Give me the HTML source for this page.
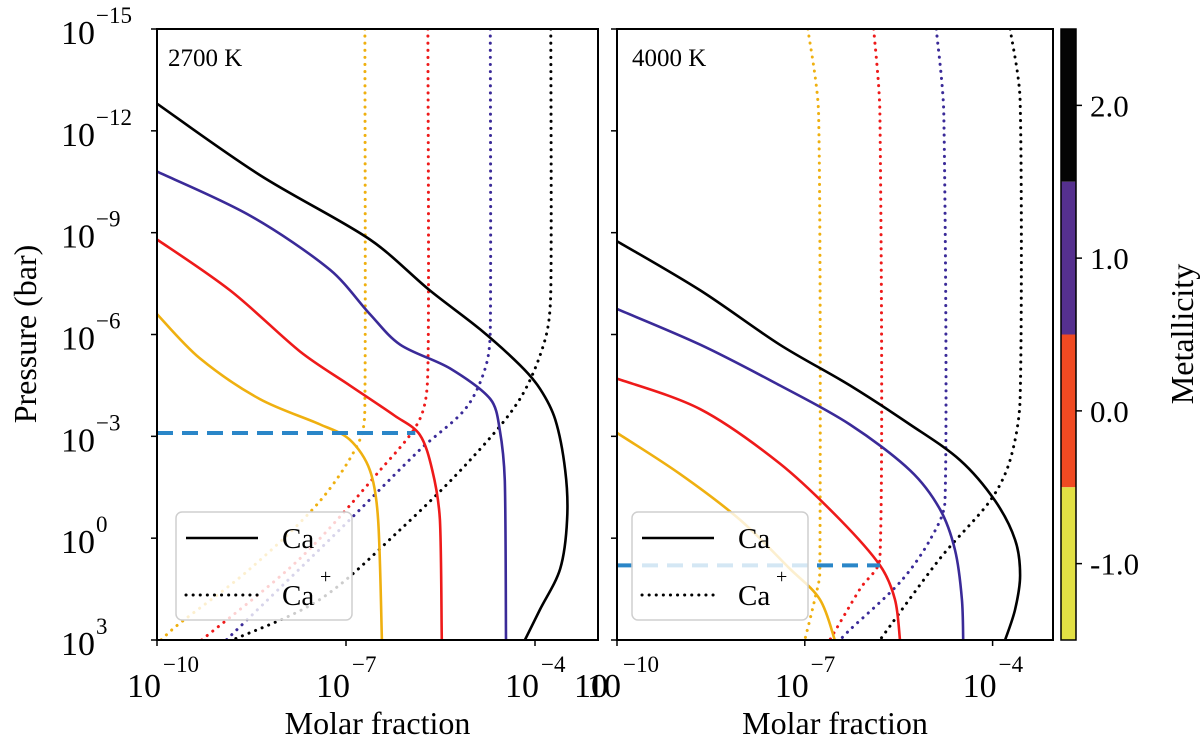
<!DOCTYPE html>
<html><head><meta charset="utf-8"><style>
body{margin:0;background:#fff}
svg{display:block;font-family:"Liberation Serif",serif}
</style></head><body>
<svg id="chart" width="1200" height="746" viewBox="0 0 1200 746">
<defs>
<clipPath id="clipL"><rect x="157" y="29" width="441" height="611"/></clipPath>
<clipPath id="clipR"><rect x="617" y="29" width="436" height="610"/></clipPath>
</defs>
<g id="panelL" clip-path="url(#clipL)"></g>
<g id="panelR" clip-path="url(#clipR)"></g>
<g id="axes"></g>
</svg>
<script>
// x = log10(molar fraction), p = log10(pressure in bar)
const xTicks = [-10, -7, -4];
const yTicks = [-15, -12, -9, -6, -3, 0, 3];
const cbTicks = ["2.0", "1.0", "0.0", "-1.0"];
const cbColors = ["#050505", "#55308e", "#f04a22", "#e2e044"];
const colors = {bk:"#000", bl:"#3a2a98", rd:"#ee1a1a", yl:"#efb010"};

// Left panel (2700 K)
const L_bk_ca_x = [-10,-8.37,-6.62,-5.67,-4.87,-4.24,-3.92,-3.68,-3.52,-3.49,-3.6,-3.92,-4.16];
const L_bk_ca_p = [-12.8,-10.7,-8.8,-7.3,-6.15,-5.1,-4.4,-3.5,-2.0,-0.55,0.9,2.1,3];
const L_bk_ion_x = [-3.75,-3.75,-3.84,-4.24,-5.03,-6.14,-7.41,-8.8];
const L_bk_ion_p = [-15,-7.3,-5.85,-4.1,-2.3,-0.25,1.8,3];
const L_bl_ca_x = [-10,-8.52,-7.25,-6.62,-6.14,-5.35,-4.71,-4.56,-4.48,-4.46];
const L_bl_ca_p = [-10.8,-9.5,-7.9,-6.6,-5.7,-5.0,-4.1,-3.2,-1.7,3];
const L_bl_ion_x = [-4.71,-4.71,-4.79,-5.11,-5.83,-7.1,-8.9];
const L_bl_ion_p = [-15,-6.15,-5.0,-3.8,-2.6,-0.25,3];
const L_rd_ca_x = [-10,-8.84,-7.73,-6.94,-6.22,-5.83,-5.63,-5.51,-5.48];
const L_rd_ca_p = [-8.8,-7.3,-5.5,-4.5,-3.6,-3.05,-2.0,-0.55,3];
const L_rd_ion_x = [-5.7,-5.7,-5.83,-6.46,-7.73,-9.29];
const L_rd_ion_p = [-15,-5.0,-3.5,-2.0,0.6,3];
const L_yl_ca_x = [-10,-9.32,-8.37,-7.41,-6.94,-6.62,-6.49,-6.43];
const L_yl_ca_p = [-6.6,-5.3,-4.1,-3.35,-2.9,-2.0,-0.55,3];
const L_yl_ion_x = [-6.7,-6.7,-6.78,-7.41,-8.52,-9.7,-10.1];
const L_yl_ion_p = [-15,-4.1,-2.9,-1.1,0.9,2.6,3.3];

// Right panel (4000 K)
const R_bk_ca_x = [-10,-8.67,-7.4,-6.28,-5.32,-4.52,-3.96,-3.64,-3.56,-3.64,-3.8];
const R_bk_ca_p = [-8.75,-7.3,-5.7,-4.5,-3.35,-2.3,-1.1,0.05,1.1,2.1,3];
const R_bk_ion_x = [-3.72,-3.56,-3.56,-3.72,-4.04,-4.84,-5.8];
const R_bk_ion_p = [-15,-12.9,-4.1,-2.3,-1.1,0.6,3];
const R_bl_ca_x = [-10,-8.67,-7.4,-6.28,-5.32,-4.84,-4.6,-4.49,-4.47];
const R_bl_ca_p = [-6.75,-5.7,-4.5,-3.35,-2.0,-0.85,0.35,1.8,3];
const R_bl_ion_x = [-4.9,-4.78,-4.76,-5.0,-5.48,-6.28,-6.44];
const R_bl_ion_p = [-15,-12.5,-1.1,0.05,1.3,2.7,3];
const R_rd_ca_x = [-10,-8.67,-7.4,-6.44,-5.8,-5.56,-5.48];
const R_rd_ca_p = [-4.7,-3.8,-2.2,-0.55,0.8,1.8,3];
const R_rd_ion_x = [-5.9,-5.8,-5.8,-6.12,-6.6];
const R_rd_ion_p = [-15,-12.5,0.6,1.5,3];
const R_yl_ca_x = [-10,-9.0,-8.04,-7.24,-6.76,-6.52];
const R_yl_ca_p = [-3.1,-1.9,-0.55,0.9,1.8,3];
const R_yl_ion_x = [-6.95,-6.78,-6.76,-6.84,-7.0];
const R_yl_ion_p = [-15,-12.5,1.0,1.8,3];

const dashL = {x:-5.9, p:-3.1};
const dashR = {x:-5.8, p:0.8};

const NS = "http://www.w3.org/2000/svg";
const svg = document.getElementById("chart");
function mk(tag, attrs, parent){const e=document.createElementNS(NS,tag);for(const k in attrs)e.setAttribute(k,attrs[k]);(parent||svg).appendChild(e);return e;}
const yTop=29, yBot=640;
function ys(p){return yTop+(p+15)*(yBot-yTop)/18;}
function xsL(x){return 157+(x+10)*63;}
function xsR(x){return 617+(x+10)*62.6;}

function clampVec(v,maxLen){const l=Math.hypot(v[0],v[1]);if(l>maxLen&&l>0){return [v[0]*maxLen/l,v[1]*maxLen/l];}return v;}
function smoothPath(pts){
  let d="M"+pts[0][0].toFixed(1)+","+pts[0][1].toFixed(1);
  for(let i=0;i<pts.length-1;i++){
    const p0=pts[Math.max(0,i-1)],p1=pts[i],p2=pts[i+1],p3=pts[Math.min(pts.length-1,i+2)];
    const seg=Math.hypot(p2[0]-p1[0],p2[1]-p1[1]);
    const t1=clampVec([(p2[0]-p0[0])/6,(p2[1]-p0[1])/6],seg/3);
    const t2=clampVec([(p3[0]-p1[0])/6,(p3[1]-p1[1])/6],seg/3);
    const c1=[p1[0]+t1[0],p1[1]+t1[1]];
    const c2=[p2[0]-t2[0],p2[1]-t2[1]];
    d+=" C"+c1[0].toFixed(1)+","+c1[1].toFixed(1)+" "+c2[0].toFixed(1)+","+c2[1].toFixed(1)+" "+p2[0].toFixed(1)+","+p2[1].toFixed(1);
  }
  return d;
}
function drawSeries(g, xs, xa, pa, color, dotted, name){
  const pts = xa.map((v,i)=>[xs(v),ys(pa[i])]);
  const el = mk("path",{d:smoothPath(pts),fill:"none",stroke:color,"stroke-width":dotted?3:2.6,"stroke-linejoin":"round","stroke-linecap":"round"},g);
  if(dotted) el.setAttribute("stroke-dasharray","0.1 7");
  
  
}
const gL=document.getElementById("panelL"), gR=document.getElementById("panelR");
const P = {L:[gL,xsL],R:[gR,xsR]};
const series = [
 ["L","yl",L_yl_ion_x,L_yl_ion_p,1],["L","rd",L_rd_ion_x,L_rd_ion_p,1],["L","bl",L_bl_ion_x,L_bl_ion_p,1],["L","bk",L_bk_ion_x,L_bk_ion_p,1],
 ["L","yl",L_yl_ca_x,L_yl_ca_p,0],["L","rd",L_rd_ca_x,L_rd_ca_p,0],["L","bl",L_bl_ca_x,L_bl_ca_p,0],["L","bk",L_bk_ca_x,L_bk_ca_p,0],
 ["R","yl",R_yl_ion_x,R_yl_ion_p,1],["R","rd",R_rd_ion_x,R_rd_ion_p,1],["R","bl",R_bl_ion_x,R_bl_ion_p,1],["R","bk",R_bk_ion_x,R_bk_ion_p,1],
 ["R","yl",R_yl_ca_x,R_yl_ca_p,0],["R","rd",R_rd_ca_x,R_rd_ca_p,0],["R","bl",R_bl_ca_x,R_bl_ca_p,0],["R","bk",R_bk_ca_x,R_bk_ca_p,0]
];
series.forEach(s=>{const [g,xs]=P[s[0]];drawSeries(g,xs,s[2],s[3],colors[s[1]],s[4],(s[0]=="L"?"left-":"right-")+s[1]+(s[4]?"-ca-ion-line":"-ca-line"));});

// dashed markers
[[gL,xsL,dashL,"left"],[gR,xsR,dashR,"right"]].forEach(([g,xs,d,n])=>{
  const l=mk("line",{x1:xs(-10),x2:xs(d.x),y1:ys(d.p),y2:ys(d.p),stroke:"#2a86c8","stroke-width":4,"stroke-dasharray":"16 9"},g);
  
  
});

// legends
function legend(g,x0,name){
  const lg=mk("g",{},g);
  
  
  mk("rect",{x:x0,y:512,width:176,height:108,rx:6,fill:"rgba(255,255,255,0.8)",stroke:"#cfcfcf","stroke-width":1.5},lg);
  mk("line",{x1:x0+10,x2:x0+82,y1:538,y2:538,stroke:"#000","stroke-width":2.6},lg);
  mk("line",{x1:x0+10,x2:x0+82,y1:595,y2:595,stroke:"#000","stroke-width":3,"stroke-dasharray":"0.1 7","stroke-linecap":"round"},lg);
  const t1=mk("text",{x:x0+106,y:548,"font-size":29},lg);t1.textContent="Ca";
  const t2=mk("text",{x:x0+106,y:605,"font-size":29},lg);t2.textContent="Ca";
  const t3=mk("text",{x:x0+144,y:583,"font-size":20},lg);t3.textContent="+";
}
legend(gL,176,"left-legend");
legend(gR,632,"right-legend");

// axes
const ax=document.getElementById("axes");
function frame(x0,x1,xs,name){
  const r=mk("rect",{x:x0,y:yTop,width:x1-x0,height:yBot-yTop,fill:"none",stroke:"#000","stroke-width":2},ax);
  
  
  xTicks.forEach(t=>{
    const x=xs(t);
    mk("line",{x1:x,x2:x,y1:yBot,y2:yBot+6,stroke:"#000","stroke-width":1.5},ax);
    const tx=mk("text",{x:x-30,y:697,"font-size":34},ax);
    
    
    tx.textContent="10";
    const sp=mk("text",{x:x+6,y:672,"font-size":23},ax);
    sp.textContent="\u2212"+(-t);
  });
  const xl=mk("text",{x:(x0+x1)/2,y:734,"font-size":32,"text-anchor":"middle"},ax);
  
  
  xl.textContent="Molar fraction";
}
frame(157,598,xsL,"left");
frame(617,1053,xsR,"right");
const extra=mk("text",{x:574,y:697,"font-size":34},ax);extra.textContent="10";
// y ticks
yTicks.forEach(t=>{
  const y=ys(t);
  mk("line",{x1:151,x2:157,y1:y,y2:y,stroke:"#000","stroke-width":1.5},ax);
  mk("line",{x1:611,x2:617,y1:y,y2:y,stroke:"#000","stroke-width":1.5},ax);
  const lab=t<0?"\u2212"+(-t):String(t);
  const tx=mk("text",{x:95,y:y+15,"font-size":34,"text-anchor":"end"},ax);
  
  
  tx.textContent="10";
  const sp=mk("text",{x:96,y:y-6,"font-size":23},ax);sp.textContent=lab;
});
const yl=mk("text",{x:0,y:0,"font-size":32,"text-anchor":"middle",transform:"translate(36,334) rotate(-90)"},ax);


yl.textContent="Pressure (bar)";
const a1=mk("text",{x:168,y:66,"font-size":25},ax);a1.textContent="2700 K";

const a2=mk("text",{x:632,y:66,"font-size":25},ax);a2.textContent="4000 K";


// colorbar
const segH=(yBot-yTop)/cbColors.length;
cbColors.forEach((c,i)=>{
  const r=mk("rect",{x:1061,y:yTop+i*segH,width:15,height:segH,fill:c},ax);
  
  
});
mk("rect",{x:1061,y:yTop,width:15,height:yBot-yTop,fill:"none",stroke:"#000","stroke-width":1.5},ax);
cbTicks.forEach((t,i)=>{
  const y=yTop+(i+0.5)*segH;
  mk("line",{x1:1076,x2:1082,y1:y,y2:y,stroke:"#000","stroke-width":1.5},ax);
  const tx=mk("text",{x:1090,y:y+11,"font-size":31},ax);
  
  
  tx.textContent=t;
});
const ml=mk("text",{x:0,y:0,"font-size":32,"text-anchor":"middle",transform:"translate(1193,334) rotate(-90)"},ax);


ml.textContent="Metallicity";
</script>
</body></html>
